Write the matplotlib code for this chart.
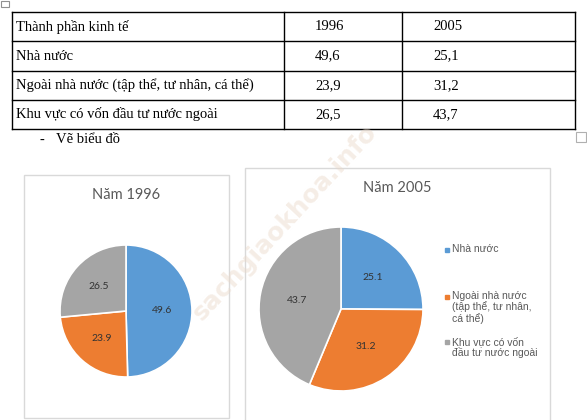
import matplotlib.pyplot as plt
from matplotlib.patches import Rectangle

# Dữ liệu
categories = ["Nhà nước", "Ngoài nhà nước (tập thể, tư nhân, cá thể)",
              "Khu vực có vốn đầu tư nước ngoài"]
legend_labels = ["Nhà nước", "Ngoài nhà nước\n(tập thể, tư nhân,\ncá thể)",
                 "Khu vực có vốn\nđầu tư nước ngoài"]
years = ["1996", "2005"]
v1996 = [49.6, 23.9, 26.5]
v2005 = [25.1, 31.2, 43.7]
colors = ["#5B9BD5", "#ED7D31", "#A5A5A5"]

W, H = 587, 420
fig = plt.figure(figsize=(W / 100, H / 100), dpi=100)


def fx(x):
    return x / W


def fy(y):
    return 1 - y / H


def box(x0, y0, x1, y1, color, lw=1.0):
    fig.patches.append(Rectangle((fx(x0), fy(y1)), fx(x1) - fx(x0), fy(y0) - fy(y1),
                                 transform=fig.transFigure, fill=False,
                                 edgecolor=color, linewidth=lw))


def line(x0, y0, x1, y1, color="black", lw=1.0):
    fig.add_artist(plt.Line2D([fx(x0), fx(x1)], [fy(y0), fy(y1)],
                              transform=fig.transFigure, color=color, linewidth=lw))


# Bảng số liệu
tx0, tx1 = 12, 575
cols = [12, 284, 402, 575]
rows = [12, 41, 71, 100, 129]
for r in rows:
    line(tx0, r, tx1, r)
for c in cols:
    line(c, rows[0], c, rows[-1])

serif = "Liberation Serif"
table_rows = [["Thành phần kinh tế"] + years]
for i, cat in enumerate(categories):
    table_rows.append([cat, f"{v1996[i]:.1f}".replace(".", ","),
                       f"{v2005[i]:.1f}".replace(".", ",")])
col_x = [16, 315, 433]
for ri, row in enumerate(table_rows):
    yc = (rows[ri] + rows[ri + 1]) / 2
    for ci, txt in enumerate(row):
        fig.text(fx(col_x[ci]), fy(yc), txt, family=serif, fontsize=10.5,
                 ha="left", va="center", color="black")

fig.text(fx(40), fy(140), "-", family=serif, fontsize=10.5, ha="left", va="center")
fig.text(fx(56), fy(140), "Vẽ biểu đồ", family=serif, fontsize=10.5, ha="left", va="center")
box(576, 132, 586, 142, "#b0b0b0", 0.8)
box(1, 1, 9, 7, "#909090", 0.8)

# Khung biểu đồ
box(24, 175, 229, 418, "#d9d9d9")
box(245, 168, 550, 421, "#d9d9d9")

sans = "Lato"


def draw_pie(vals, cx, cy, r, title, tx, ty):
    ax = fig.add_axes([fx(cx - r), fy(cy + r), 2 * r / W, 2 * r / H])
    ax.pie(vals, colors=colors, startangle=90, counterclock=False,
           labels=[f"{v:.1f}" for v in vals], labeldistance=0.55,
           wedgeprops=dict(edgecolor="white", linewidth=1.2),
           textprops=dict(family=sans, fontsize=7.5, color="#333333",
                          ha="center", va="center"))
    ax.set_xlim(-1, 1)
    ax.set_ylim(-1, 1)
    ax.set_aspect("auto")
    ax.axis("off")
    fig.text(fx(tx), fy(ty), title, family=sans, fontsize=10.5,
             color="#595959", ha="center", va="center")


draw_pie(v1996, 126, 311, 66, "Năm 1996", 126, 195)
draw_pie(v2005, 341, 309, 82, "Năm 2005", 397, 188)

# Chú giải
leg_y = [250, 297, 342]
for lab, col, y in zip(legend_labels, colors, leg_y):
    fig.patches.append(Rectangle((fx(445), fy(y + 2)), 4 / W, 4 / H,
                                 transform=fig.transFigure, color=col))
    fig.text(fx(452), fy(y - 6), lab, family="Liberation Sans", fontsize=7.5,
             color="#595959", ha="left", va="top", linespacing=1.05)

# Watermark
fig.text(fx(285), fy(222), "sachgiaokhoa.info", family="DejaVu Sans", fontsize=18,
         rotation=47, color="#ead8c8", alpha=0.45, ha="center", va="center",
         fontweight="bold")

fig.savefig("out.png", dpi=100)
